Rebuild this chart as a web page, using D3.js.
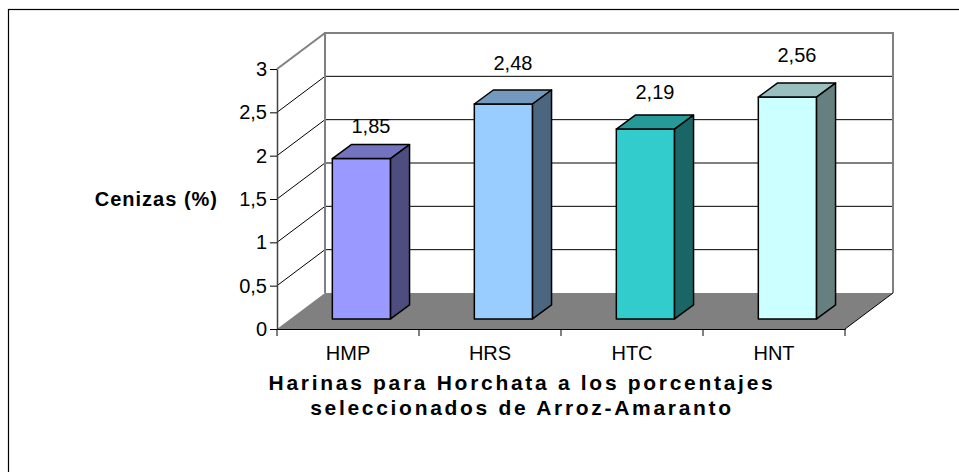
<!DOCTYPE html>
<html><head><meta charset="utf-8">
<script src="https://cdn.jsdelivr.net/npm/d3@7"></script>
<style>body{margin:0;background:#fff}svg{display:block}text{font-family:Arial,"Liberation Sans",sans-serif;fill:#000}</style>
</head><body>
<svg id="c" width="959" height="472"></svg>
<script>
const categories = ["HMP","HRS","HTC","HNT"];
const values = [1.85, 2.48, 2.19, 2.56];
const frontColors = ["#9999FF","#99CCFF","#33CCCC","#CCFFFF"];
const yTicks = [0,0.5,1,1.5,2,2.5,3];
const yTitle = "Cenizas (%)";
const xTitle = ["Harinas para Horchata a los porcentajes","seleccionados de Arroz-Amaranto"];

const svg = d3.select("#c");
const loc = d3.formatLocale({decimal:",",thousands:".",grouping:[3],currency:["",""]});
const fTick = loc.format("~g"), fLab = loc.format(".2f");

const X0 = 277, X1 = 845, DX = 48, DY = 36;
const x = d3.scaleBand().domain(categories).range([X0, X1]).padding(0);
const y = d3.scaleLinear().domain([0,3]).range([329, 69]);
const labY = d3.scaleLinear().domain([0,3]).range([318, 18]);
const f = 0.28, offX = DX*f, offY = DY*f, bdx = 19, bdy = 14;
const barW = x.bandwidth()*0.41;

// outer border
svg.append("rect").attr("x",8.5).attr("y",9.5).attr("width",1000).attr("height",1000)
  .attr("fill","none").attr("stroke","#000").attr("stroke-width",1.2);

const g = svg.append("g");
// back wall gridlines
yTicks.filter(v=>v>0 && v<3).forEach(v=>{
  g.append("line").attr("x1",X0+DX).attr("x2",X1+DX).attr("y1",y(v)-DY).attr("y2",y(v)-DY)
    .attr("stroke","#000").attr("stroke-width",1);
});
// side wall lines
yTicks.filter(v=>v>0).forEach(v=>{
  g.append("line").attr("x1",X0).attr("y1",y(v)).attr("x2",X0+DX).attr("y2",y(v)-DY)
    .attr("stroke", v===3 ? "#808080" : "#000").attr("stroke-width", v===3 ? 2 : 1);
});
// back wall edges (gray)
g.append("path").attr("d",`M${X0+DX},${y(0)-DY}V${y(3)-DY}H${X1+DX}V${y(0)-DY}`)
  .attr("fill","none").attr("stroke","#808080").attr("stroke-width",2);
// floor
g.append("path").attr("d",`M${X0},${y(0)}L${X1},${y(0)}L${X1+DX},${y(0)-DY}L${X0+DX},${y(0)-DY}Z`)
  .attr("fill","#808080");
g.append("line").attr("x1",X1).attr("y1",y(0)).attr("x2",X1+DX).attr("y2",y(0)-DY)
  .attr("stroke","#000").attr("stroke-width",1);

// y axis
const ya = svg.append("g").attr("transform",`translate(${X0},0)`)
  .call(d3.axisLeft(y).tickValues(yTicks).tickFormat(fTick).tickSize(7).tickPadding(3).tickSizeOuter(0));
ya.select(".domain").attr("stroke","#404040").attr("stroke-width",1.5);
ya.selectAll(".tick line").attr("stroke","#000");
ya.selectAll(".tick text").attr("font-size","20px").attr("font-family","Arial,'Liberation Sans',sans-serif").attr("fill","#000");

// x axis
const xa = svg.append("g").attr("transform",`translate(0,${y(0)})`)
  .call(d3.axisBottom(x).tickSize(0).tickPadding(0).tickSizeOuter(0));
xa.select(".domain").attr("stroke","#000").attr("stroke-width",1.2);
xa.selectAll(".tick text").attr("font-size","20px").attr("font-family","Arial,'Liberation Sans',sans-serif")
  .attr("fill","#000").attr("dy",null).attr("y",31);
const bounds = categories.map(c=>x(c)).concat([X1]);
xa.selectAll(".bt").data(bounds).join("line").attr("class","bt")
  .attr("x1",d=>d).attr("x2",d=>d).attr("y1",0).attr("y2",7).attr("stroke","#000");

// bars
const shade = (c,k)=>{const o=d3.rgb(c);return d3.rgb(o.r*k,o.g*k,o.b*k).formatHex();};
categories.forEach((c,i)=>{
  const v = values[i];
  const xl = x(c) + (x.bandwidth()-barW)/2 + offX, xr = xl + barW;
  const yb = y(0) - offY, yt = y(v) - offY;
  const bg = svg.append("g").attr("stroke","#000").attr("stroke-width",1.5).attr("stroke-linejoin","round");
  bg.append("path").attr("d",`M${xl},${yb}H${xr}V${yt}H${xl}Z`).attr("fill",frontColors[i]);
  bg.append("path").attr("d",`M${xl},${yt}H${xr}L${xr+bdx},${yt-bdy}H${xl+bdx}Z`).attr("fill",shade(frontColors[i],0.75));
  bg.append("path").attr("d",`M${xr},${yb}V${yt}L${xr+bdx},${yt-bdy}V${yb-bdy}Z`).attr("fill",shade(frontColors[i],0.5));
  svg.append("text").attr("x",xl+barW/2+bdx/2).attr("y",labY(v)).attr("text-anchor","middle")
    .attr("font-size","20px").text(fLab(v));
});

// titles
svg.append("text").attr("x",218).attr("y",206).attr("text-anchor","end")
  .attr("font-size","20px").attr("font-weight","bold").attr("letter-spacing","1px").text(yTitle);
xTitle.forEach((t,i)=>{
  svg.append("text").attr("x",522).attr("y",390+i*25).attr("text-anchor","middle")
    .attr("font-size","21px").attr("font-weight","bold").attr("letter-spacing","2.7px").text(t);
});
</script>
</body></html>
